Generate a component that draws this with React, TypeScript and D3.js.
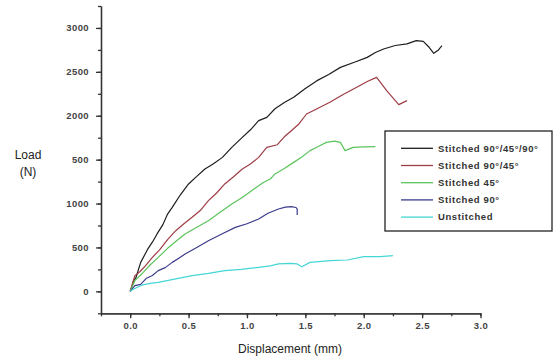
import React, { useEffect, useRef } from 'react';
import * as d3 from 'd3';

// Load (N) vs displacement (mm)
const seriesNames = [
  'Stitched 90°/45°/90°',
  'Stitched 90°/45°',
  'Stitched 45°',
  'Stitched 90°',
  'Unstitched',
];
const seriesColors = ['#1e1e1e', '#9e3c44', '#5cc45c', '#3b3b8c', '#45d6d6'];

const black: [number, number][] = [
  [0, 0], [0.03, 120], [0.05, 160], [0.09, 330], [0.15, 480], [0.19, 560], [0.23, 654],
  [0.28, 760], [0.32, 880], [0.36, 957], [0.43, 1100], [0.5, 1223], [0.57, 1310],
  [0.64, 1394], [0.71, 1450], [0.79, 1526], [0.87, 1640], [0.96, 1754], [1.03, 1840],
  [1.1, 1944], [1.17, 1982], [1.24, 2080], [1.32, 2150], [1.4, 2210], [1.5, 2310],
  [1.6, 2400], [1.7, 2470], [1.8, 2551], [1.92, 2610], [2.03, 2665], [2.1, 2720],
  [2.17, 2760], [2.27, 2800], [2.37, 2818], [2.45, 2856], [2.51, 2848], [2.56, 2780],
  [2.6, 2711], [2.64, 2750], [2.67, 2798],
];
const red: [number, number][] = [
  [0, 0], [0.04, 179], [0.08, 220], [0.13, 290], [0.19, 387], [0.25, 470], [0.32, 590],
  [0.39, 691], [0.46, 770], [0.53, 843], [0.6, 920], [0.67, 1033], [0.74, 1120],
  [0.81, 1223], [0.88, 1300], [0.96, 1394], [1.03, 1450], [1.1, 1526], [1.17, 1640],
  [1.26, 1670], [1.32, 1760], [1.38, 1830], [1.44, 1900], [1.51, 2020], [1.6, 2080],
  [1.71, 2153], [1.82, 2240], [1.94, 2324], [2.03, 2390], [2.11, 2437], [2.2, 2280],
  [2.3, 2127], [2.37, 2172],
];
const green: [number, number][] = [
  [0, 0], [0.04, 122], [0.1, 200], [0.17, 300], [0.24, 387], [0.32, 490], [0.4, 580],
  [0.47, 654], [0.57, 730], [0.67, 805], [0.77, 900], [0.87, 995], [0.95, 1060],
  [1.04, 1147], [1.14, 1240], [1.2, 1280], [1.24, 1337], [1.32, 1400], [1.4, 1469],
  [1.47, 1530], [1.54, 1603], [1.61, 1650], [1.68, 1697], [1.75, 1710], [1.8, 1697],
  [1.84, 1603], [1.91, 1640], [2.0, 1645], [2.1, 1648],
];
const navy: [number, number][] = [
  [0, 0], [0.04, 65], [0.09, 80], [0.14, 150], [0.19, 180], [0.24, 236], [0.3, 270],
  [0.36, 330], [0.42, 380], [0.47, 426], [0.57, 500], [0.67, 577], [0.78, 650],
  [0.9, 729], [1.0, 770], [1.1, 824], [1.18, 890], [1.27, 938], [1.33, 960],
  [1.38, 965], [1.42, 955], [1.43, 938], [1.43, 870],
];
const cyan: [number, number][] = [
  [0, 0], [0.03, 27], [0.1, 70], [0.17, 90], [0.24, 103], [0.38, 140], [0.53, 179],
  [0.67, 205], [0.81, 236], [0.95, 250], [1.1, 273], [1.2, 290], [1.27, 312],
  [1.37, 319], [1.43, 312], [1.47, 280], [1.54, 330], [1.71, 350], [1.86, 357],
  [2.0, 395], [2.14, 395], [2.25, 406],
];
const seriesData = [black, red, green, navy, cyan];

const yTickValues = [0, 500, 1000, 1500, 2000, 2500, 3000];
const yTickLabels = ['0', '500', '1000', '500', '2000', '2500', '3000'];
const xTickValues = [0, 0.5, 1.0, 1.5, 2.0, 2.5, 3.0];
const xTickLabels = ['0.0', '0.5', '1.0', '1.5', '2.0', '2.5', '3.0'];

const App = () => {
  const chartRef = useRef<SVGSVGElement | null>(null);

  useEffect(() => {
    const svg = d3.select(chartRef.current);
    svg.selectAll('*').remove();

    const x = d3.scaleLinear().domain([-0.25, 3.0]).range([101, 480.5]);
    const y = d3.scaleLinear().domain([-250, 3250]).range([313.3, 6]);
    const axisColor = '#333';

    // minor ticks
    const xAxisMinor = d3.axisBottom(x)
      .tickValues(d3.range(-0.25, 3.01, 0.25))
      .tickSize(3)
      .tickSizeOuter(0)
      .tickFormat(() => '');
    const gxm = svg.append('g').attr('transform', `translate(0,${y(-250)})`).call(xAxisMinor);

    const xAxis = d3.axisBottom(x)
      .tickValues(xTickValues)
      .tickSize(5)
      .tickSizeOuter(0)
      .tickFormat((d, i) => xTickLabels[i]);
    const gx = svg.append('g').attr('transform', `translate(0,${y(-250)})`).call(xAxis);

    const yAxisMinor = d3.axisLeft(y)
      .tickValues(d3.range(-250, 3251, 250))
      .tickSize(3)
      .tickSizeOuter(0)
      .tickFormat(() => '');
    const gym = svg.append('g').attr('transform', `translate(${x(-0.25)},0)`).call(yAxisMinor);

    const yAxis = d3.axisLeft(y)
      .tickValues(yTickValues)
      .tickSize(5)
      .tickSizeOuter(0)
      .tickFormat((d, i) => yTickLabels[i]);
    const gy = svg.append('g').attr('transform', `translate(${x(-0.25)},0)`).call(yAxis);

    [gx, gy, gxm, gym].forEach(g => {
      g.selectAll('path, line').attr('stroke', axisColor).attr('stroke-width', 1.3);
      g.selectAll('text')
        .attr('fill', '#444')
        .style('font-family', 'Liberation Sans, Arial, sans-serif')
        .style('font-size', '9.5px')
        .style('font-weight', 'bold')
        .style('letter-spacing', '0.4px');
    });
    gx.selectAll('text').attr('dy', '0.71em').attr('y', 9);
    gy.selectAll('text').attr('x', -12);

    // axis titles
    const title = (t: string, tx: number, ty: number) =>
      svg.append('text')
        .attr('x', tx).attr('y', ty)
        .attr('text-anchor', 'middle')
        .attr('fill', '#222')
        .style('font-family', 'Liberation Sans, Arial, sans-serif')
        .style('font-size', '12px')
        .text(t);
    title('Displacement (mm)', 290, 353);
    title('Load', 28, 159);
    title('(N)', 28, 176);

    // lines
    const line = d3.line<[number, number]>()
      .x(d => x(d[0]))
      .y(d => y(d[1]));

    seriesData.forEach((data, i) => {
      svg.append('path')
        .datum(data)
        .attr('fill', 'none')
        .attr('stroke', seriesColors[i])
        .attr('stroke-width', 1.2)
        .attr('stroke-linejoin', 'round')
        .attr('d', line);
    });

    // legend
    const legend = svg.append('g').attr('transform', 'translate(385,131)');
    legend.append('rect')
      .attr('width', 167).attr('height', 100)
      .attr('fill', 'white')
      .attr('stroke', '#222')
      .attr('stroke-width', 1.3);
    seriesNames.forEach((name, i) => {
      const row = legend.append('g').attr('transform', `translate(0,${17.3 + i * 17.2})`);
      row.append('line')
        .attr('x1', 16).attr('x2', 48)
        .attr('stroke', seriesColors[i])
        .attr('stroke-width', 1.3);
      row.append('text')
        .attr('x', 53).attr('dy', '0.35em')
        .attr('fill', '#333')
        .style('font-family', 'Liberation Sans, Arial, sans-serif')
        .style('font-size', '9.5px')
        .style('font-weight', 'bold')
        .style('letter-spacing', '0.6px')
        .text(name);
    });

    return () => {
      svg.selectAll('*').remove();
    };
  }, []);

  return (
    <svg
      ref={chartRef}
      width={557}
      height={362}
      style={{ position: 'absolute', left: 0, top: 0, background: 'white' }}
    />
  );
};

export default App;
